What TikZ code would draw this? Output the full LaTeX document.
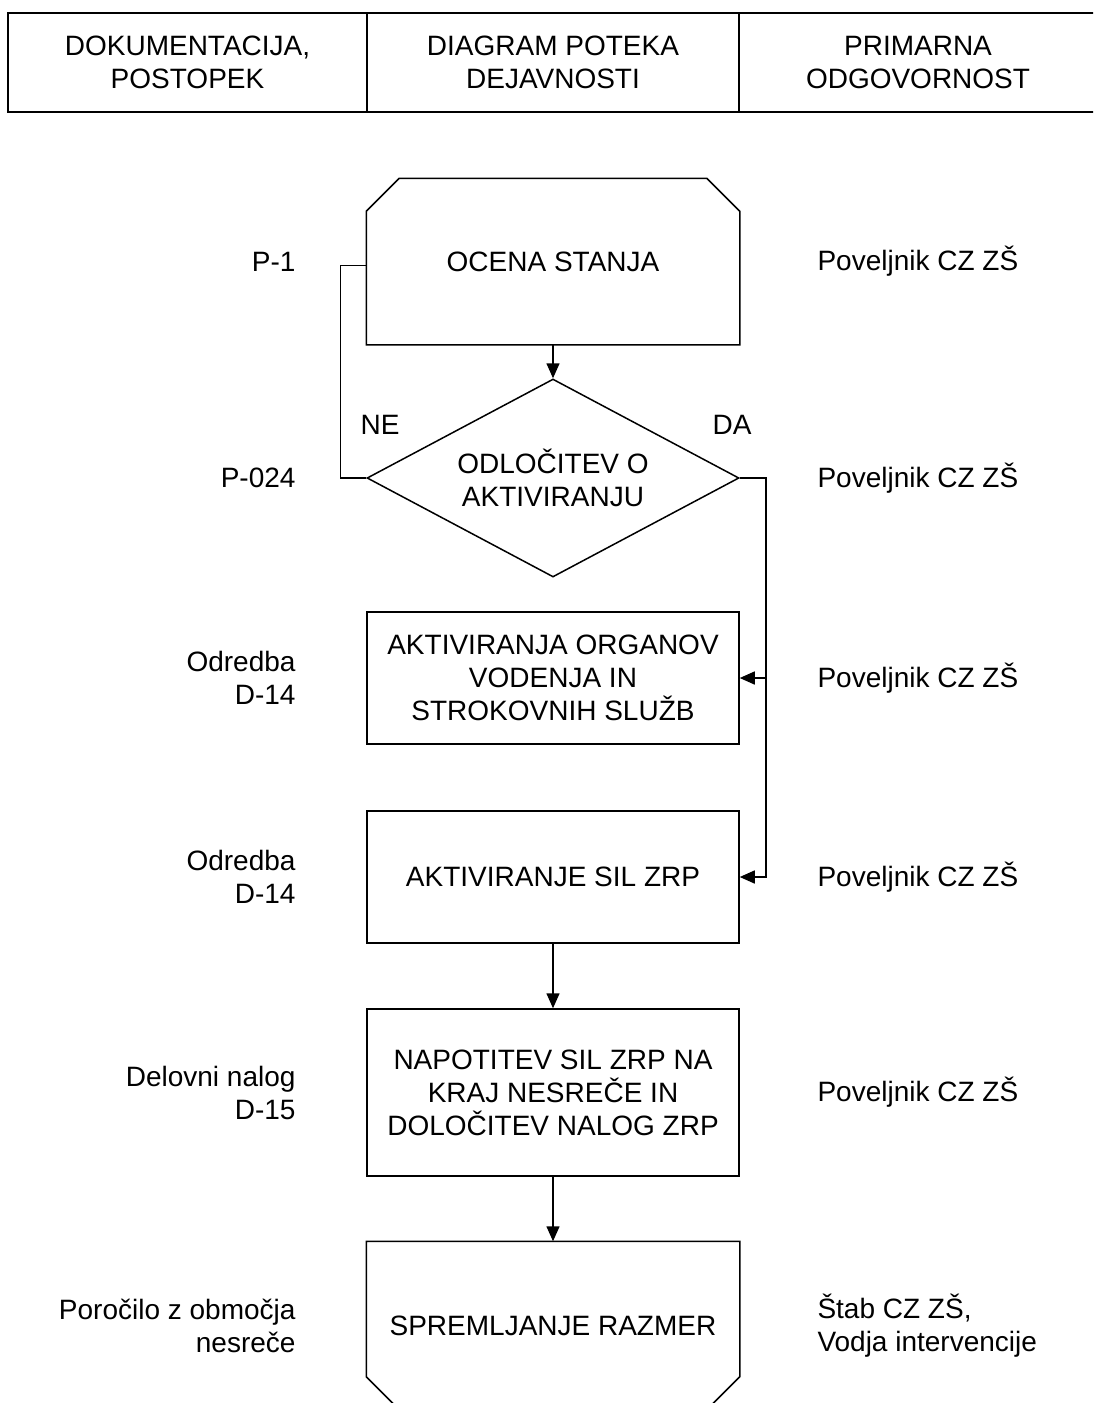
\documentclass[tikz,border=0pt]{standalone}
\usepackage{fontspec}
\setmainfont{Liberation Sans}
\usepackage{tikz}
\usetikzlibrary{arrows.meta}
\usetikzlibrary{shapes.geometric, calc, positioning}

\begin{document}
\begin{tikzpicture}[x=0.5pt, y=-0.5pt,
            font=\fontsize{14}{16.5}\selectfont, line width=0.75pt,
            korak/.style={draw, rectangle, minimum width=186pt, minimum height=66pt, inner sep=0pt, align=center},
            odlocitev/.style={draw, diamond, shape aspect=1.88, minimum width=186pt, minimum height=99pt, inner sep=0pt, align=center},
            glava/.style={draw, line width=1pt, minimum height=49.5pt, inner sep=0pt, align=center},
            levo/.style={align=right, inner sep=0pt},
            desno/.style={align=left, inner sep=0pt},
            puscica/.style={-{Triangle[length=7.5pt, width=6.5pt]}}]
            \path[use as bounding box] (0,0) rectangle (1093,1403);
            \clip (0,0) rectangle (1093,1403);

            % Glava
            \node[glava, minimum width=179.5pt] (hdok) at (187.5,62.5) {DOKUMENTACIJA,\\POSTOPEK};
            \node[glava, minimum width=186pt] (hdia) at (553,62.5) {DIAGRAM POTEKA\\DEJAVNOSTI};
            \node[glava, minimum width=179pt] (hodg) at (918,62.5) {PRIMARNA\\ODGOVORNOST};

            % Koraki
            \node[korak, draw=none, minimum height=82.5pt] (ocena) at (553,261.5) {OCENA STANJA};
            \draw (ocena.south west) -- ($(ocena.north west)+(0,33)$) -- ($(ocena.north west)+(33,0)$)
                -- ($(ocena.north east)+(-33,0)$) -- ($(ocena.north east)+(0,33)$) -- (ocena.south east) -- cycle;
            \node[odlocitev] (odl) at (553,478) {ODLOČITEV O\\AKTIVIRANJU};
            \node[korak] (organi) at (553,678) {AKTIVIRANJA ORGANOV\\VODENJA IN\\STROKOVNIH SLUŽB};
            \node[korak] (sile) at (553,877) {AKTIVIRANJE SIL ZRP};
            \node[korak, minimum height=83.5pt] (napot) at (553,1092.5) {NAPOTITEV SIL ZRP NA\\KRAJ NESREČE IN\\DOLOČITEV NALOG ZRP};
            \node[korak, draw=none, minimum height=83.5pt] (sprem) at (553,1325.5) {SPREMLJANJE RAZMER};
            \draw (sprem.north west) -- (sprem.north east) -- ($(sprem.south east)+(0,-33)$) -- ($(sprem.south east)+(-33,0)$)
                -- ($(sprem.south west)+(33,0)$) -- ($(sprem.south west)+(0,-33)$) -- cycle;

            % Povezave
            \draw[puscica] (ocena.south) -- (odl.north);
            \draw (odl.west) -- ++(-26,0) |- ($(ocena.west)+(0,4)$);
            \draw[puscica] (odl.east) -- ++(26,0) coordinate (razcep) |- (sile.east);
            \draw[puscica] (razcep |- organi.east) -- (organi.east);
            \draw[puscica] (sile.south) -- (napot.north);
            \draw[puscica] (napot.south) -- (sprem.north);
            \node (ne) at (380,425) {NE};
            \node (da) at (732,425) {DA};

            % Dokumentacija
            \node[levo, left=35pt of ocena] (p1) {P-1};
            \node[levo, left=35pt of odl] (p024) {P-024};
            \node[levo, left=35pt of organi] (odr1) {Odredba\\D-14};
            \node[levo, left=35pt of sile] (odr2) {Odredba\\D-14};
            \node[levo, left=35pt of napot] (nalog) {Delovni nalog\\D-15};
            \node[levo, left=35pt of sprem] (porocilo) {Poročilo z območja\\nesreče};

            % Odgovornost
            \node[desno, right=38.5pt of ocena] (odg1) {Poveljnik CZ ZŠ};
            \node[desno, right=38.5pt of odl] (odg2) {Poveljnik CZ ZŠ};
            \node[desno, right=38.5pt of organi] (odg3) {Poveljnik CZ ZŠ};
            \node[desno, right=38.5pt of sile] (odg4) {Poveljnik CZ ZŠ};
            \node[desno, right=38.5pt of napot] (odg5) {Poveljnik CZ ZŠ};
            \node[desno, right=38.5pt of sprem] (odg6) {Štab CZ ZŠ,\\Vodja intervencije};
        \end{tikzpicture}
\end{document}
